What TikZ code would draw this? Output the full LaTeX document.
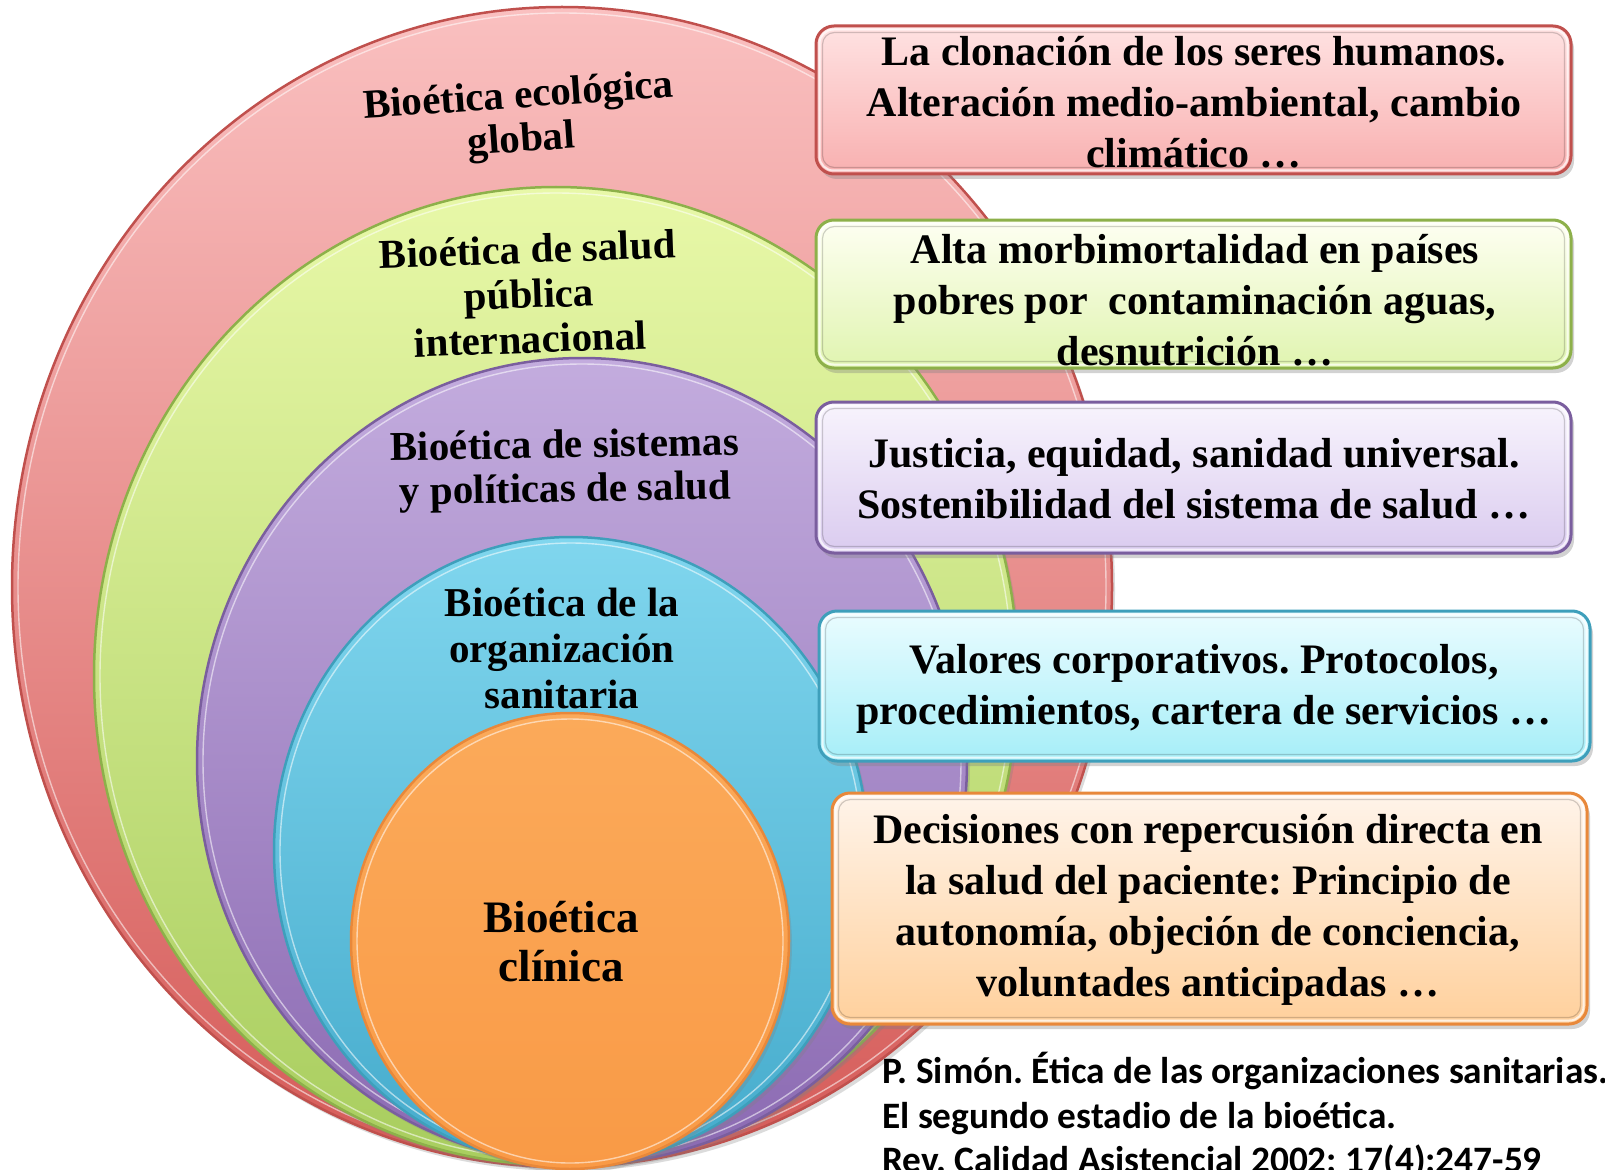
\documentclass[tikz,border=0pt]{standalone}
\usepackage{fontspec}
\setmainfont{Liberation Serif}
\newfontfamily\citefont{Carlito}
\usetikzlibrary{shapes.geometric,shadows,calc}
\frenchspacing

\definecolor{redO}{HTML}{C0504D}
\definecolor{redT}{HTML}{FAC0C0}
\definecolor{redB}{HTML}{D55B58}
\definecolor{grnO}{HTML}{8DB04A}
\definecolor{grnT}{HTML}{E8F8A8}
\definecolor{grnB}{HTML}{A8CD5E}
\definecolor{purO}{HTML}{7A5E9E}
\definecolor{purT}{HTML}{C3ACDE}
\definecolor{purB}{HTML}{8B6AB2}
\definecolor{cyaO}{HTML}{3E9FBB}
\definecolor{cyaT}{HTML}{80D6EE}
\definecolor{cyaB}{HTML}{45ABCC}
\definecolor{ornO}{HTML}{E8883A}
\definecolor{ornT}{HTML}{FBAA5A}
\definecolor{ornB}{HTML}{F99A46}
% box colours
\definecolor{b1T}{HTML}{FFE2E2}
\definecolor{b1B}{HTML}{F8B0B0}
\definecolor{b2T}{HTML}{FEFFF2}
\definecolor{b2B}{HTML}{E0F4B0}
\definecolor{b3T}{HTML}{F8F4FD}
\definecolor{b3B}{HTML}{DACBEF}
\definecolor{b4T}{HTML}{EAFCFF}
\definecolor{b4B}{HTML}{A6EEF8}
\definecolor{b5T}{HTML}{FFF4EA}
\definecolor{b5B}{HTML}{FFD09C}

\tikzset{
  ringshape/.style n args={3}{ellipse, inner sep=0pt, draw=#1, line width=2.5pt,
     top color=#2, bottom color=#3,
     drop shadow={opacity=0.28, shadow xshift=3pt, shadow yshift=-4pt}},
  infobox/.style n args={3}{draw=#1, line width=3pt, rounded corners=18pt,
     top color=#2, bottom color=#3, inner sep=0pt, align=center,
     drop shadow={opacity=0.35, shadow xshift=3pt, shadow yshift=-5pt}},
  ringlabel/.style={align=center, inner sep=0pt, font=\fontsize{41}{44}\selectfont\bfseries},
  glow/.style={draw=white, opacity=0.55, line width=1.4pt},
  bevel/.style={draw=white, opacity=0.7, line width=2pt, rounded corners=14pt},
  bevelgray/.style={draw=black, opacity=0.18, line width=1.2pt, rounded corners=12pt},
  boxtext/.style={align=center, inner sep=0pt, font=\fontsize{42}{51}\selectfont\bfseries},
}

\begin{document}
\begin{tikzpicture}[x=1pt,y=-1pt]
\clip (0,0) rectangle (1605,1169);
\fill[white] (0,0) rectangle (1605,1169);

% nested ellipses
\node[ringshape={redO}{redT}{redB}, minimum width=1100pt, minimum height=1160pt] (red) at (562,587) {};
\draw[glow] (red.center) ellipse [x radius=544pt, y radius=574pt];
\node[ringshape={grnO}{grnT}{grnB}, minimum width=924pt, minimum height=978pt] (grn) at (556,676) {};
\draw[glow] (grn.center) ellipse [x radius=456pt, y radius=483pt];
\node[ringshape={purO}{purT}{purB}, minimum width=770pt, minimum height=806pt] (pur) at (582,761) {};
\draw[glow] (pur.center) ellipse [x radius=379pt, y radius=397pt];
\node[ringshape={cyaO}{cyaT}{cyaB}, minimum width=594pt, minimum height=628pt] (cya) at (571,851) {};
\draw[glow] (cya.center) ellipse [x radius=291pt, y radius=308pt];
\node[ringshape={ornO}{ornT}{ornB}, minimum width=438pt, minimum height=456pt] (orn) at (570,941) {};
\draw[glow] (orn.center) ellipse [x radius=213pt, y radius=222pt];

% labels in the ellipses
\node[ringlabel, rotate=4] (l1) at (520,120) {Bioética ecológica\\global};
\node[ringlabel, rotate=2, font=\fontsize{41}{45}\selectfont\bfseries] (l2) at (529,294) {Bioética de salud\\pública\\internacional};
\node[ringlabel, rotate=1] (l3) at (565,470) {Bioética de sistemas\\y políticas de salud};
\node[ringlabel, font=\fontsize{41}{46}\selectfont\bfseries] (l4) at (562,648) {Bioética de la\\organización\\sanitaria};
\node[ringlabel, font=\fontsize{45}{49}\selectfont\bfseries] (l5) at (561,942) {Bioética\\clínica};

% boxes
\node[infobox={redO}{b1T}{b1B}, minimum width=755pt, minimum height=148pt] (b1) at (1193.5,100) {};
\node[infobox={grnO}{b2T}{b2B}, minimum width=755pt, minimum height=148pt] (b2) at (1193.5,294) {};
\node[infobox={purO}{b3T}{b3B}, minimum width=755pt, minimum height=151pt] (b3) at (1193.5,477.5) {};
\node[infobox={cyaO}{b4T}{b4B}, minimum width=771pt, minimum height=150pt] (b4) at (1204.5,686) {};
\node[infobox={ornO}{b5T}{b5B}, minimum width=755pt, minimum height=231pt] (b5) at (1209.5,908.5) {};

\foreach \b in {b1,b2,b3,b4,b5}{
  \draw[bevel] ($(\b.north west)+(5,5)$) rectangle ($(\b.south east)+(-5,-5)$);
  \draw[bevelgray] ($(\b.north west)+(8,8)$) rectangle ($(\b.south east)+(-8,-8)$);
}

\node[boxtext] (t1) at (1194,102) {La clonación de los seres humanos.\\Alteración medio-ambiental, cambio\\climático …};
\node[boxtext] (t2) at (1195,300) {Alta morbimortalidad en países\\pobres por \ contaminación aguas,\\desnutrición …};
\node[boxtext] (t3) at (1194,479) {Justicia, equidad, sanidad universal.\\Sostenibilidad del sistema de salud …};
\node[boxtext] (t4) at (1204,689) {Valores corporativos. Protocolos,\\procedimientos, cartera de servicios …};
\node[boxtext] (t5) at (1208,910) {Decisiones con repercusión directa en\\la salud del paciente: Principio de\\autonomía, objeción de conciencia,\\voluntades anticipadas …};

% citation
\node[anchor=north west, align=left, inner sep=0pt, font=\citefont\bfseries\fontsize{37.3}{44.5}\selectfont] (cite) at (882,1052)
  {P. Simón. Ética de las organizaciones sanitarias.\\El segundo estadio de la bioética.\\Rev. Calidad Asistencial 2002; 17(4):247-59};
\end{tikzpicture}
\end{document}
